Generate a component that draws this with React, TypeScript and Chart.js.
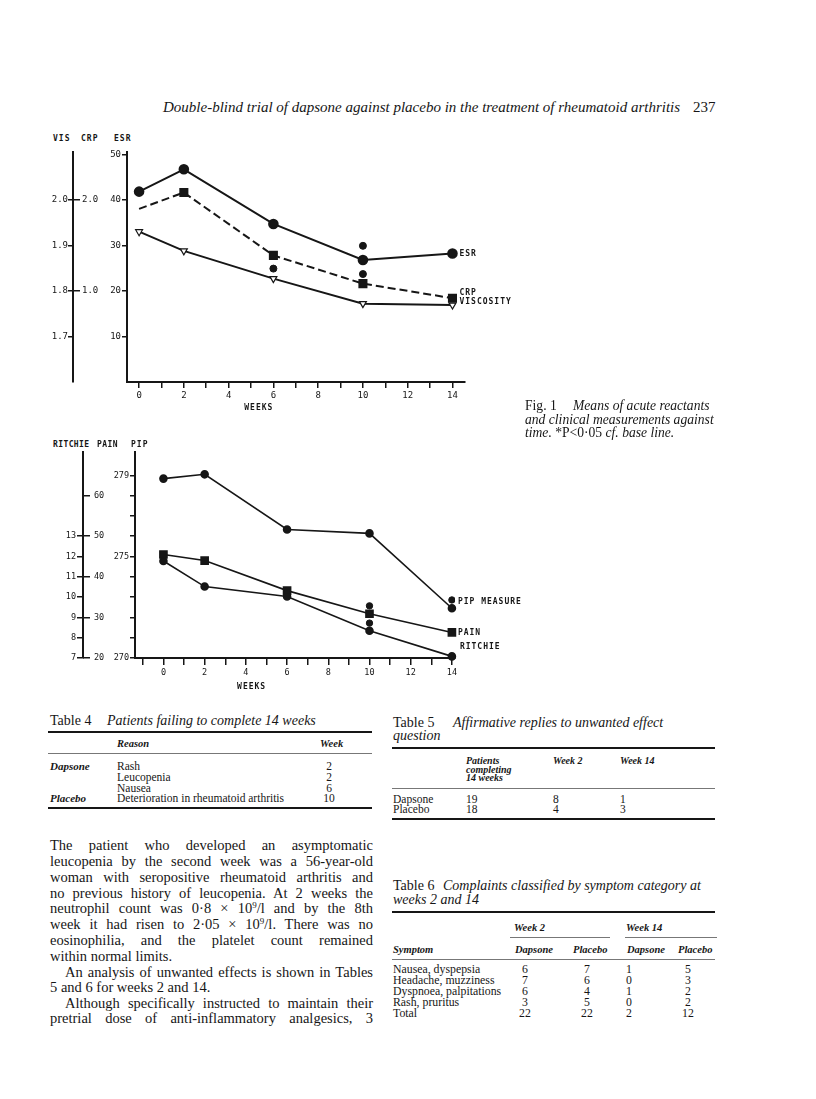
import React, { useEffect, useRef } from 'react';
import { Chart, registerables } from 'chart.js';

Chart.register(...registerables);

const INK = '#161616';
const MONO = "'DejaVu Sans Mono', monospace";
const SERIF = "'Liberation Serif', 'Times New Roman', serif";

// ---------- Fig. 1 upper panel (acute reactants) ----------
const weeks = [0, 2, 6, 10, 14];
const esrValues = [41.8, 46.7, 34.7, 26.8, 28.2];
const crpValues = [1.9, 2.08, 1.39, 1.08, 0.92];
const viscosityValues = [1.93, 1.888, 1.827, 1.772, 1.769];
const esrSigWeeks = [6, 10, 10];
const esrSigValues = [24.9, 29.9, 23.7];
const esrTicks = [10, 20, 30, 40, 50];
const crpTicks = [1.0, 2.0];
const visTicks = [1.7, 1.8, 1.9, 2.0];

// ---------- Fig. 1 lower panel (clinical measurements) ----------
const pipValues = [278.84, 279.05, 276.33, 276.14, 272.45];
const painValues = [45.5, 44.0, 36.6, 30.9, 26.3];
const ritchieValues = [11.78, 10.52, 10.03, 8.34, 7.08];
const pipSigWeeks = [10, 10, 14];
const pipSigValues = [272.57, 271.72, 272.86];
const pipTicks = [270, 271, 272, 273, 274, 275, 276, 277, 278, 279];
const pipLabelled = [270, 275, 279];
const painTicks = [20, 30, 40, 50, 60];
const ritchieTicks = [7, 8, 9, 10, 11, 12, 13];

// ---------- tables ----------
const t4Groups = ['Dapsone', '', '', 'Placebo'];
const t4Reasons = ['Rash', 'Leucopenia', 'Nausea', 'Deterioration in rheumatoid arthritis'];
const t4Weeks = ['2', '2', '6', '10'];

const t5Groups = ['Dapsone', 'Placebo'];
const t5Completing = ['19', '18'];
const t5Week2 = ['8', '4'];
const t5Week14 = ['1', '3'];

const t6Symptoms = ['Nausea, dyspepsia', 'Headache, muzziness', 'Dyspnoea, palpitations', 'Rash, pruritus', 'Total'];
const t6W2Dapsone = ['6', '7', '6', '3', '22'];
const t6W2Placebo = ['7', '6', '4', '5', '22'];
const t6W14Dapsone = ['1', '0', '1', '0', '2'];
const t6W14Placebo = ['5', '3', '2', '2', '12'];

const pts = (xs: number[], ys: number[]) => xs.map((x, i) => ({ x, y: ys[i] }));

const annotPlugin = {
  id: 'annot',
  afterDatasetsDraw(chart: any, _args: any, opts: any) {
    const ctx = chart.ctx;
    ctx.save();
    ctx.fillStyle = INK;
    ctx.font = `bold 8px ${MONO}`;
    try { (ctx as any).letterSpacing = '1px'; } catch (e) {}
    ctx.textBaseline = 'middle';
    ctx.textAlign = 'left';
    (opts.labels || []).forEach((l: any) => {
      const meta = chart.getDatasetMeta(l.dataset);
      const p = meta.data[meta.data.length - 1];
      ctx.fillText(l.text, p.x + l.dx, p.y + l.dy);
    });
    ctx.textAlign = 'center';
    (opts.titles || []).forEach((t: any) => {
      const x = chart.scales.x.getPixelForValue(t.value);
      ctx.fillText(t.text, x, chart.chartArea.bottom + t.dy);
    });
    ctx.restore();
  },
};

const tickFont1 = { family: MONO, size: 9 };
const tickFont2 = { family: MONO, size: 8.5 };
const setTicks = (vals: number[]) => (s: any) => {
  s.ticks = vals.map((v) => ({ value: v }));
};

function fig1Config(): any {
  return {
    type: 'line',
    data: {
      datasets: [
        {
          label: 'ESR', data: pts(weeks, esrValues), yAxisID: 'yEsr',
          borderColor: INK, borderWidth: 2, pointStyle: 'circle', pointRadius: 4.3,
          pointBackgroundColor: INK, pointBorderColor: INK, clip: false,
        },
        {
          label: 'CRP', data: pts(weeks, crpValues), yAxisID: 'yCrp',
          borderColor: INK, borderWidth: 2, borderDash: [8, 4], pointStyle: 'rect',
          pointRadius: [0, 5, 5, 5, 5], pointBackgroundColor: INK, pointBorderColor: INK, clip: false,
        },
        {
          label: 'Viscosity', data: pts(weeks, viscosityValues), yAxisID: 'yVis',
          borderColor: INK, borderWidth: 2, pointStyle: 'triangle', pointRotation: 180,
          pointRadius: 4, pointBackgroundColor: '#fff', pointBorderColor: INK, pointBorderWidth: 1.2, clip: false,
        },
        {
          label: 'P<0.05', data: pts(esrSigWeeks, esrSigValues), yAxisID: 'yEsr', showLine: false,
          pointStyle: 'circle', pointRadius: 3.5, pointBackgroundColor: INK, pointBorderColor: INK,
        },
      ],
    },
    options: {
      animation: false, responsive: false, events: [],
      layout: { padding: { left: 0, top: 12, right: 65, bottom: 8 } },
      plugins: {
        legend: { display: false }, tooltip: { enabled: false },
        annot: {
          labels: [
            { dataset: 0, text: 'ESR', dx: 7, dy: 0 },
            { dataset: 1, text: 'CRP', dx: 7, dy: -5 },
            { dataset: 2, text: 'VISCOSITY', dx: 7, dy: -3 },
          ],
          titles: [{ text: 'WEEKS', value: 5.35, dy: 26 }],
        },
      },
      scales: {
        x: {
          type: 'linear', min: -0.54, max: 14.56,
          afterFit: (s: any) => { s.height = 30; },
          ticks: {
            stepSize: 1, includeBounds: false, autoSkip: false, maxRotation: 0, minRotation: 0,
            color: INK, font: tickFont1, padding: 2,
            callback: (v: number) => (v % 2 === 0 ? String(v) : ''),
          },
          grid: { drawOnChartArea: false, tickLength: 6, color: INK, lineWidth: 1.5 },
          border: { color: INK, width: 2 },
        },
        yEsr: {
          type: 'linear', position: 'left', weight: 1, min: 0, max: 50.5,
          afterFit: (s: any) => { s.width = 47; },
          afterBuildTicks: setTicks(esrTicks),
          ticks: { color: INK, font: tickFont1, padding: 1, callback: (v: number) => String(v) },
          grid: { drawOnChartArea: false, tickLength: 5, color: INK, lineWidth: 1.5 },
          border: { color: INK, width: 2 },
        },
        yCrp: {
          type: 'linear', position: 'left', weight: 2, min: 0, max: 2.525,
          afterFit: (s: any) => { s.width = 7; },
          afterBuildTicks: setTicks(crpTicks),
          ticks: { mirror: true, color: INK, font: tickFont1, padding: 2, callback: (v: number) => v.toFixed(1) },
          grid: { drawOnChartArea: false, tickLength: 7, color: INK, lineWidth: 1.5 },
          border: { display: false },
        },
        yVis: {
          type: 'linear', position: 'left', weight: 3, min: 1.6, max: 2.105,
          afterFit: (s: any) => { s.width = 33; },
          afterBuildTicks: setTicks(visTicks),
          ticks: { color: INK, font: tickFont1, padding: 0, callback: (v: number) => v.toFixed(1) },
          grid: { drawOnChartArea: false, tickLength: 5, color: INK, lineWidth: 1.5 },
          border: { color: INK, width: 2 },
        },
      },
    },
    plugins: [annotPlugin],
  };
}

function fig2Config(): any {
  return {
    type: 'line',
    data: {
      datasets: [
        {
          label: 'PIP measure', data: pts(weeks, pipValues), yAxisID: 'yPip',
          borderColor: INK, borderWidth: 1.6, pointStyle: 'circle', pointRadius: 3.5,
          pointBackgroundColor: INK, pointBorderColor: INK, clip: false,
        },
        {
          label: 'Pain', data: pts(weeks, painValues), yAxisID: 'yPain',
          borderColor: INK, borderWidth: 1.6, pointStyle: 'rect', pointRadius: 5,
          pointBackgroundColor: INK, pointBorderColor: INK, clip: false,
        },
        {
          label: 'Ritchie', data: pts(weeks, ritchieValues), yAxisID: 'yRitchie',
          borderColor: INK, borderWidth: 1.6, pointStyle: 'circle', pointRadius: 3.5,
          pointBackgroundColor: INK, pointBorderColor: INK, clip: false,
        },
        {
          label: 'P<0.05', data: pts(pipSigWeeks, pipSigValues), yAxisID: 'yPip', showLine: false,
          pointStyle: 'circle', pointRadius: 3.2, pointBackgroundColor: INK, pointBorderColor: INK,
        },
      ],
    },
    options: {
      animation: false, responsive: false, events: [],
      layout: { padding: { left: 0, top: 12, right: 75, bottom: 12 } },
      plugins: {
        legend: { display: false }, tooltip: { enabled: false },
        annot: {
          labels: [
            { dataset: 0, text: 'PIP MEASURE', dx: 6, dy: -6 },
            { dataset: 1, text: 'PAIN', dx: 6, dy: 0 },
            { dataset: 2, text: 'RITCHIE', dx: 8, dy: -9 },
          ],
          titles: [{ text: 'WEEKS', value: 4.28, dy: 29 }],
        },
      },
      scales: {
        x: {
          type: 'linear', min: -1.38, max: 14.15,
          afterFit: (s: any) => { s.height = 30; },
          ticks: {
            stepSize: 1, includeBounds: false, autoSkip: false, maxRotation: 0, minRotation: 0,
            color: INK, font: tickFont2, padding: 3,
            callback: (v: number) => (v >= 0 && v % 2 === 0 ? String(v) : ''),
          },
          grid: { drawOnChartArea: false, tickLength: 7, color: INK, lineWidth: 1.5 },
          border: { color: INK, width: 2 },
        },
        yPip: {
          type: 'linear', position: 'left', weight: 1, min: 270, max: 280.15,
          afterFit: (s: any) => { s.width = 45; },
          afterBuildTicks: setTicks(pipTicks),
          ticks: {
            color: INK, font: tickFont2, padding: 1,
            callback: (v: number) => (pipLabelled.includes(v) ? String(v) : ''),
          },
          grid: { drawOnChartArea: false, tickLength: 5, color: INK, lineWidth: 1.5 },
          border: { color: INK, width: 2 },
        },
        yPain: {
          type: 'linear', position: 'left', weight: 2, min: 20, max: 70.75,
          afterFit: (s: any) => { s.width = 7; },
          afterBuildTicks: setTicks(painTicks),
          ticks: { mirror: true, color: INK, font: tickFont2, padding: 4, callback: (v: number) => String(v) },
          grid: { drawOnChartArea: false, tickLength: 7, color: INK, lineWidth: 1.5 },
          border: { display: false },
        },
        yRitchie: {
          type: 'linear', position: 'left', weight: 3, min: 7, max: 17.15,
          afterFit: (s: any) => { s.width = 43; },
          afterBuildTicks: setTicks(ritchieTicks),
          ticks: { color: INK, font: tickFont2, padding: 1, callback: (v: number) => String(v) },
          grid: { drawOnChartArea: false, tickLength: 6, color: INK, lineWidth: 1.5 },
          border: { color: INK, width: 2 },
        },
      },
    },
    plugins: [annotPlugin],
  };
}

function ChartBox({ make, left, top, width, height }: any) {
  const ref = useRef<HTMLCanvasElement>(null);
  useEffect(() => {
    const chart = new Chart(ref.current as HTMLCanvasElement, make());
    return () => chart.destroy();
  }, []);
  return (
    <div style={{ position: 'absolute', left, top, width, height }}>
      <canvas ref={ref} width={width} height={height} style={{ width, height, display: 'block' }} />
    </div>
  );
}

function T({ x, y, children, size = 13, italic = false, bold = false, align = 'left', family = SERIF, spacing }: any) {
  const lh = Math.round(size * 1.2);
  const tx = align === 'center' ? 'translateX(-50%)' : align === 'right' ? 'translateX(-100%)' : undefined;
  return (
    <div
      style={{
        position: 'absolute', left: x, top: y - lh / 2, fontSize: size, lineHeight: lh + 'px',
        fontStyle: italic ? 'italic' : 'normal', fontWeight: bold ? 700 : 400, fontFamily: family,
        whiteSpace: 'nowrap', transform: tx, letterSpacing: spacing, color: INK,
      }}
    >
      {children}
    </div>
  );
}

function J({ x, y, w, children, size = 14.5, justify = true }: any) {
  const lh = Math.round(size * 1.2);
  return (
    <div
      style={{
        position: 'absolute', left: x, top: y - lh / 2, width: w, height: lh, fontSize: size, lineHeight: lh + 'px',
        fontFamily: SERIF, whiteSpace: 'nowrap', color: INK,
        textAlign: justify ? 'justify' : 'left', textAlignLast: justify ? 'justify' : 'left',
      } as any}
    >
      {children}
    </div>
  );
}

function Sup({ children }: any) {
  return (
    <span style={{ fontSize: '0.62em', position: 'relative', top: '-0.55em', lineHeight: 0, verticalAlign: 'baseline' }}>
      {children}
    </span>
  );
}

function L({ x1, x2, y, h = 1, color = INK }: any) {
  return <div style={{ position: 'absolute', left: x1, top: y - h / 2, width: x2 - x1, height: h, background: color }} />;
}

function Lab({ x, y, children, spacing = '1px' }: any) {
  return <T x={x} y={y} size={8} bold family={MONO} spacing={spacing}>{children}</T>;
}

export default function App() {
  const bodyLeft = 50;
  const bodyW = 323;
  const t4Row = [766, 777, 788, 798];
  const t6Row = [969, 980, 991, 1002, 1013];
  return (
    <div style={{ position: 'absolute', left: 0, top: 0, width: 816, height: 1099, background: '#fff', overflow: 'hidden' }}>
      {/* running head */}
      <T x={163} y={107} size={15} italic>Double-blind trial of dapsone against placebo in the treatment of rheumatoid arthritis</T>
      <T x={693} y={107} size={15}>237</T>

      {/* upper panel */}
      <Lab x={53} y={139}>VIS</Lab>
      <Lab x={81} y={139}>CRP</Lab>
      <Lab x={114} y={139}>ESR</Lab>
      <ChartBox make={fig1Config} left={40} top={140} width={490} height={280} />

      {/* caption */}
      <T x={525} y={406} size={13.6}>Fig. 1</T>
      <T x={573} y={406} size={13.6} italic>Means of acute reactants</T>
      <T x={525} y={420} size={13.6} italic>and clinical measurements against</T>
      <T x={525} y={433} size={13.6}><i>time.</i> *P&lt;0·05 <i>cf. base line.</i></T>

      {/* lower panel */}
      <Lab x={53} y={445} spacing="0.4px">RITCHIE</Lab>
      <Lab x={97} y={445} spacing="0.4px">PAIN</Lab>
      <Lab x={131} y={445}>PIP</Lab>
      <ChartBox make={fig2Config} left={40} top={440} width={490} height={260} />

      {/* Table 4 */}
      <T x={50} y={720} size={14}>Table 4</T>
      <T x={107} y={720} size={14} italic>Patients failing to complete 14 weeks</T>
      <L x1={48} x2={372} y={732} h={2} />
      <T x={117} y={743} size={10.5} italic bold>Reason</T>
      <T x={320} y={743} size={10.5} italic bold>Week</T>
      <L x1={48} x2={372} y={753} h={1} color="#777" />
      {t4Reasons.map((r, i) => (
        <React.Fragment key={'t4' + i}>
          {t4Groups[i] ? <T x={50} y={t4Row[i]} size={11} italic bold>{t4Groups[i]}</T> : null}
          <T x={117} y={t4Row[i]} size={11.5}>{r}</T>
          <T x={329} y={t4Row[i]} size={11.5} align="center">{t4Weeks[i]}</T>
        </React.Fragment>
      ))}
      <L x1={48} x2={372} y={808} h={2} />

      {/* Table 5 */}
      <T x={393} y={722} size={14}>Table 5</T>
      <T x={453} y={722} size={14} italic>Affirmative replies to unwanted effect</T>
      <T x={393} y={735} size={14} italic>question</T>
      <L x1={392} x2={715} y={748} h={2} />
      <T x={466} y={761} size={10} italic bold>Patients</T>
      <T x={466} y={769.5} size={10} italic bold>completing</T>
      <T x={466} y={778} size={10} italic bold>14 weeks</T>
      <T x={553} y={761} size={10} italic bold>Week 2</T>
      <T x={620} y={761} size={10} italic bold>Week 14</T>
      <L x1={392} x2={715} y={788} h={1} color="#777" />
      {t5Groups.map((g, i) => (
        <React.Fragment key={'t5' + i}>
          <T x={393} y={799 + i * 9.5} size={11.5}>{g}</T>
          <T x={466} y={799 + i * 9.5} size={11.5}>{t5Completing[i]}</T>
          <T x={553} y={799 + i * 9.5} size={11.5}>{t5Week2[i]}</T>
          <T x={620} y={799 + i * 9.5} size={11.5}>{t5Week14[i]}</T>
        </React.Fragment>
      ))}
      <L x1={392} x2={715} y={819} h={2} />

      {/* Table 6 */}
      <T x={393} y={885} size={14}>Table 6</T>
      <T x={443} y={885} size={14} italic>Complaints classified by symptom category at</T>
      <T x={393} y={899} size={14} italic>weeks 2 and 14</T>
      <L x1={392} x2={715} y={912} h={2} />
      <T x={514} y={927} size={10.5} italic bold>Week 2</T>
      <T x={626} y={927} size={10.5} italic bold>Week 14</T>
      <L x1={510} x2={610} y={937} h={1} color="#777" />
      <L x1={625} x2={717} y={937} h={1} color="#777" />
      <T x={393} y={949} size={10.5} italic bold>Symptom</T>
      <T x={515} y={949} size={10.5} italic bold>Dapsone</T>
      <T x={573} y={949} size={10.5} italic bold>Placebo</T>
      <T x={627} y={949} size={10.5} italic bold>Dapsone</T>
      <T x={678} y={949} size={10.5} italic bold>Placebo</T>
      <L x1={392} x2={715} y={959} h={1} color="#777" />
      {t6Symptoms.map((s, i) => (
        <React.Fragment key={'t6' + i}>
          <T x={393} y={t6Row[i]} size={11.8}>{s}</T>
          <T x={525} y={t6Row[i]} size={11.8} align="center">{t6W2Dapsone[i]}</T>
          <T x={587} y={t6Row[i]} size={11.8} align="center">{t6W2Placebo[i]}</T>
          <T x={629} y={t6Row[i]} size={11.8} align="center">{t6W14Dapsone[i]}</T>
          <T x={688} y={t6Row[i]} size={11.8} align="center">{t6W14Placebo[i]}</T>
        </React.Fragment>
      ))}

      {/* body text */}
      <J x={bodyLeft} y={845} w={bodyW}>The patient who developed an asymptomatic</J>
      <J x={bodyLeft} y={861} w={bodyW}>leucopenia by the second week was a 56-year-old</J>
      <J x={bodyLeft} y={877} w={bodyW}>woman with seropositive rheumatoid arthritis and</J>
      <J x={bodyLeft} y={893} w={bodyW}>no previous history of leucopenia. At 2 weeks the</J>
      <J x={bodyLeft} y={908} w={bodyW}>neutrophil count was 0·8 × 10<Sup>9</Sup>/l and by the 8th</J>
      <J x={bodyLeft} y={924} w={bodyW}>week it had risen to 2·05 × 10<Sup>9</Sup>/l. There was no</J>
      <J x={bodyLeft} y={940} w={bodyW}>eosinophilia, and the platelet count remained</J>
      <J x={bodyLeft} y={956} w={bodyW} justify={false}>within normal limits.</J>
      <J x={bodyLeft + 15} y={972} w={bodyW - 15}>An analysis of unwanted effects is shown in Tables</J>
      <J x={bodyLeft} y={987} w={bodyW} justify={false}>5 and 6 for weeks 2 and 14.</J>
      <J x={bodyLeft + 15} y={1003} w={bodyW - 15}>Although specifically instructed to maintain their</J>
      <J x={bodyLeft} y={1018} w={bodyW}>pretrial dose of anti-inflammatory analgesics, 3</J>
    </div>
  );
}
